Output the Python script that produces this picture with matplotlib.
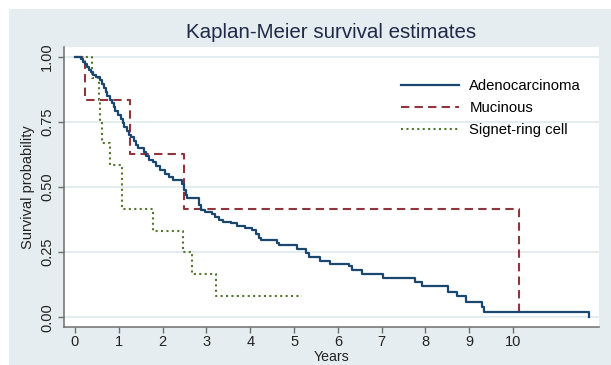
"""
Kaplan-Meier survival estimates by histological type (Stata s2color look).
"""
import matplotlib
matplotlib.use("Agg")
import matplotlib.pyplot as plt
from matplotlib.patches import Rectangle

# ---- data -----------------------------------------------------------------
adeno_t = [0, 0.13, 0.18, 0.22, 0.28, 0.32, 0.36, 0.42, 0.47, 0.57, 0.62,
           0.66, 0.70, 0.74, 0.80, 0.85, 0.88, 0.92, 0.98, 1.05, 1.09, 1.13,
           1.18, 1.24, 1.29, 1.35, 1.40, 1.45, 1.57, 1.63, 1.70, 1.79, 1.86,
           1.94, 2.05, 2.15, 2.24, 2.44, 2.48, 2.53, 2.56, 2.84, 2.87, 2.97,
           3.12, 3.20, 3.28, 3.38, 3.55, 3.70, 3.88, 4.05, 4.14, 4.20, 4.24,
           4.62, 4.66, 5.06, 5.27, 5.34, 5.59, 5.82, 6.26, 6.32, 6.55, 7.04,
           7.77, 7.93, 8.51, 8.71, 8.93, 9.28, 9.34, 11.74]
adeno_s = [1.0, 0.99, 0.98, 0.97, 0.96, 0.95, 0.94, 0.93, 0.92, 0.91, 0.895,
           0.88, 0.865, 0.85, 0.835, 0.82, 0.805, 0.79, 0.775, 0.76, 0.745,
           0.73, 0.715, 0.70, 0.69, 0.675, 0.66, 0.648, 0.635, 0.62, 0.605,
           0.595, 0.58, 0.565, 0.55, 0.54, 0.527, 0.51, 0.49, 0.47, 0.457,
           0.43, 0.412, 0.405, 0.395, 0.385, 0.374, 0.367, 0.362, 0.351,
           0.343, 0.335, 0.32, 0.306, 0.297, 0.285, 0.276, 0.263, 0.249,
           0.232, 0.216, 0.206, 0.196, 0.183, 0.168, 0.153, 0.137, 0.121,
           0.099, 0.081, 0.061, 0.041, 0.021, 0.0]

mucin_t = [0, 0.24, 1.26, 2.49, 10.14]
mucin_s = [1.0, 0.833, 0.625, 0.417, 0.0]

signet_t = [0, 0.40, 0.55, 0.57, 0.62, 0.80, 1.08, 1.77, 2.47, 2.66, 3.21, 5.18]
signet_s = [1.0, 0.917, 0.833, 0.75, 0.667, 0.583, 0.417, 0.333, 0.25,
            0.167, 0.083, 0.083]

x_ticks = [0, 1, 2, 3, 4, 5, 6, 7, 8, 9, 10]
y_ticks = [0.0, 0.25, 0.5, 0.75, 1.0]

# ---- style -----------------------------------------------------------------
plt.rcParams["font.family"] = ["Liberation Sans", "DejaVu Sans"]
bg = "#e5edf0"
navy = "#1a476f"
maroon = "#90353b"
green = "#55752f"

W, H = 611, 365
fig = plt.figure(figsize=(W / 100, H / 100), dpi=100, facecolor="white")
fig.patches.append(Rectangle((9 / W, 0), 1 - 9 / W, 1 - 9 / H,
                             transform=fig.transFigure, facecolor=bg,
                             edgecolor="none", zorder=-10))

ax = fig.add_axes([64 / W, 1 - 327 / H, (599 - 64) / W, (327 - 47) / H])
ax.set_facecolor("white")

ax.step(adeno_t, adeno_s, where="post", color=navy, lw=1.6,
        label="Adenocarcinoma", zorder=4)
ax.step(mucin_t, mucin_s, where="post", color=maroon, lw=1.5,
        linestyle=(0, (4.0, 2.5)), label="Mucinous", zorder=3)
ax.step(signet_t, signet_s, where="post", color=green, lw=1.5,
        linestyle=(0, (1, 1.6)), label="Signet-ring cell", zorder=3)

ax.set_xlim(-0.25, 11.96)
ax.set_ylim(-0.0364, 1.0364)
ax.set_xticks(x_ticks)
ax.set_yticks(y_ticks)
ax.set_yticklabels([f"{v:.2f}" for v in y_ticks], rotation=90, va="center")
ax.yaxis.grid(True, color="#e1eaee", lw=1.3)
ax.set_axisbelow(True)

for side in ["top", "right"]:
    ax.spines[side].set_visible(False)
for side in ["left", "bottom"]:
    ax.spines[side].set_color("#6e6e6e")
    ax.spines[side].set_linewidth(1.1)
ax.tick_params(axis="both", colors="#6e6e6e", length=4, width=1.0,
               labelsize=10.5, labelcolor="#222222")
ax.tick_params(axis="x", pad=2)
ax.tick_params(axis="y", pad=3)

ax.set_xlabel("Years", fontsize=10.2, color="#222222", labelpad=0.5)
ax.set_ylabel("Survival probability", fontsize=10.5, color="#222222",
              labelpad=4)

fig.text(331 / W, 1 - 32 / H, "Kaplan-Meier survival estimates",
         ha="center", va="center", fontsize=14.8, color="#1e2a48")

ax.legend(loc="upper left", bbox_to_anchor=(401 / W, 1 - 79 / H),
          bbox_transform=fig.transFigure, frameon=False, fontsize=10.7,
          handlelength=3.9, handletextpad=0.7, labelspacing=0.55,
          borderpad=0, borderaxespad=0)

fig.savefig("out.png", dpi=100, facecolor=fig.get_facecolor())
